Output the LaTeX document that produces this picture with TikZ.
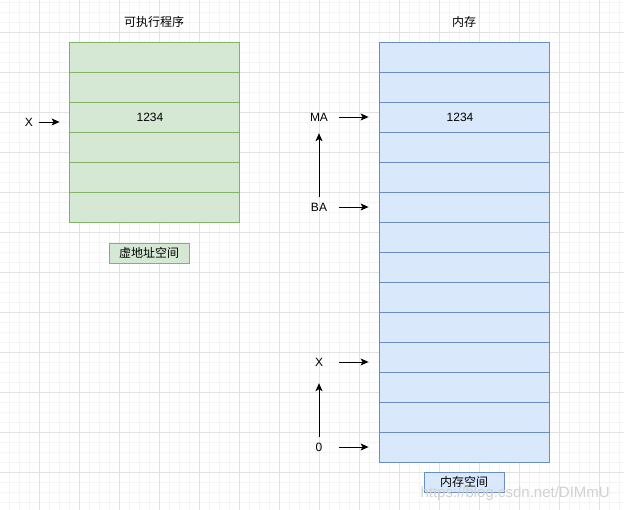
\documentclass[tikz,border=0pt]{standalone}
\usepackage{fontspec}
\usepackage{xcolor}
\usepackage{tikz}
\usetikzlibrary{arrows.meta}
\setmainfont{Liberation Sans}
\newfontfamily\cjk{Noto Sans CJK SC}

\definecolor{greenfill}{HTML}{D5E8D4}
\definecolor{greenline}{HTML}{82B366}
\definecolor{bluefill}{HTML}{DAE8FC}
\definecolor{blueline}{HTML}{6C8EBF}
\definecolor{gridminor}{HTML}{F4F4F4}
\definecolor{gridmajor}{HTML}{E2E2E2}

\begin{document}
\begin{tikzpicture}[x=1pt, y=-1pt, font=\fontsize{12}{14}\selectfont,
    progcell/.style={draw=greenline, fill=greenfill, line width=0.8pt, rectangle, minimum width=170pt, minimum height=30pt, inner sep=0pt},
    memcell/.style={draw=blueline, fill=bluefill, line width=0.8pt, rectangle, minimum width=170pt, minimum height=30pt, inner sep=0pt},
    tag/.style={rectangle, minimum width=20pt, minimum height=20pt, inner sep=0pt},
    arr/.style={-{Stealth[length=8pt, width=7pt, inset=2pt]}, line width=0.9pt}]
        \useasboundingbox (0,0) rectangle (624,510);
        \fill[white] (0,0) rectangle (624,510);

        % Grid of the canvas
        \foreach \gx in {9,19,...,619} \draw[gridminor, line width=0.6pt] (\gx,0) -- (\gx,510);
        \foreach \gy in {2,12,...,502} \draw[gridminor, line width=0.6pt] (0,\gy) -- (624,\gy);
        \foreach \gx in {39,79,...,619} \draw[gridmajor, line width=0.8pt] (\gx,0) -- (\gx,510);
        \foreach \gy in {32,72,...,472} \draw[gridmajor, line width=0.8pt] (0,\gy) -- (624,\gy);

        % Nodes for the executable program
        \node (progtitle) at (154,22) {\cjk 可执行程序};
        \foreach \i in {1,...,6}
            \node [progcell] (prog\i) at (154,{57+30*(\i-1)}) {};
        \node [xshift=-4pt] (progval) at (prog3) {1234};
        \node [draw=greenline, fill=greenfill, line width=0.8pt, minimum width=80pt, minimum height=20pt, inner sep=0pt] (vspace) at (149,253) {\cjk 虚地址空间};
        \node [tag] (px) at (29,122) {X};

        % Nodes for the memory
        \node (memtitle) at (464,22) {\cjk 内存};
        \foreach \i in {1,...,14}
            \node [memcell] (mem\i) at (464,{57+30*(\i-1)}) {};
        \node [xshift=-4pt] (memval) at (mem3) {1234};
        \node [draw=blueline, fill=bluefill, line width=0.8pt, minimum width=80pt, minimum height=20pt, inner sep=0pt] (mspace) at (464,482) {\cjk 内存空间};

        % Address labels
        \node [tag] (ma) at (319,117) {MA};
        \node [tag] (ba) at (319,207) {BA};
        \node [tag] (mx) at (319,362) {X};
        \node [tag] (zero) at (319,447) {0};

        % Arrows
        \draw [arr, shorten >=9pt] (px.east) -- (px.east -| prog3.west);
        \draw [arr, shorten <=10pt, shorten >=10pt] (ma.east) -- (ma.east -| mem3.west);
        \draw [arr, shorten <=10pt, shorten >=10pt] (ba.east) -- (ba.east -| mem6.west);
        \draw [arr, shorten <=10pt, shorten >=10pt] (mx.east) -- (mx.east -| mem11.west);
        \draw [arr, shorten <=10pt, shorten >=10pt] (zero.east) -- (zero.east -| mem14.west);
        \draw [arr, shorten >=6pt] (ba.north) -- (ma.south);
        \draw [arr, shorten >=11pt] (zero.north) -- (mx.south);

        % Watermark
        \node [text=black!18, font=\fontsize{15}{17}\selectfont, anchor=west] (mark) at (417,494) {https://blog.csdn.net/DIMmU};
    \end{tikzpicture}
\end{document}
